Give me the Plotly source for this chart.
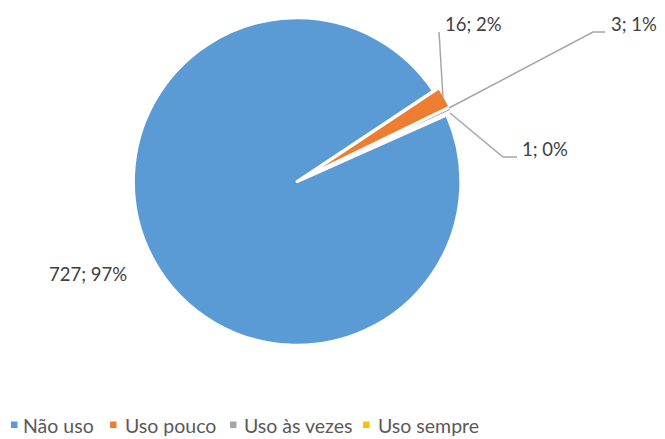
import plotly.graph_objects as go

# ── Dados ────────────────────────────────────────────────────────────────────

CATEGORIAS  = ["Não uso", "Uso pouco", "Uso às vezes", "Uso sempre"]
VALORES     = [727, 16, 3, 1]
PERCENTUAIS = [97, 2, 1, 0]
CORES       = ["#5B9BD5", "#ED7D31", "#A5A5A5", "#FFC000"]

# a página tem margem de 8px no body: a figura começa em (8, 8)
OFF = 8
W, H = 665 - OFF, 439 - OFF


def px(x):
    return (x - OFF) / W


def py(y):
    return 1 - (y - OFF) / H


# ── Gráfico ──────────────────────────────────────────────────────────────────

fig = go.Figure()

fig.add_trace(go.Pie(
    labels=CATEGORIAS,
    values=VALORES,
    marker=dict(colors=CORES, line=dict(color="white", width=3)),
    sort=False,
    direction="clockwise",
    rotation=66,
    pull=[0.02] * len(VALORES),
    textinfo="none",
    hoverinfo="label+value+percent",
    showlegend=False,
    domain=dict(x=[px(133), px(467)], y=[py(347), py(13)]),
))

rotulos = [f"{v}; {p}%" for v, p in zip(VALORES, PERCENTUAIS)]

# posições dos rótulos (px da referência): esquerda, centro vertical
pos_rotulos = [(47, 274), (443, 24), (609, 24), (520, 149)]
for txt, (x, y) in zip(rotulos, pos_rotulos):
    fig.add_annotation(
        x=px(x), y=py(y), xref="paper", yref="paper",
        text=txt, showarrow=False, xanchor="left", yanchor="middle",
        font=dict(size=18.5, color="#404040"),
    )

# linhas de chamada
linhas = [
    [(443, 97), (439, 32)],
    [(449, 108), (593, 32), (605, 32)],
    [(450, 113), (503, 157), (517, 157)],
]
for pts in linhas:
    path = "M " + " L ".join(f"{px(x)},{py(y)}" for x, y in pts)
    fig.add_shape(type="path", path=path, xref="paper", yref="paper",
                  line=dict(color="#A6A6A6", width=1.5))

# legenda manual
leg_quad = [11, 110, 230, 363]
leg_txt  = [21, 123, 242, 376]
for cat, cor, xq, xt in zip(CATEGORIAS, CORES, leg_quad, leg_txt):
    fig.add_shape(type="rect", xref="paper", yref="paper",
                  x0=px(xq), x1=px(xq + 6.5), y0=py(428), y1=py(421.5),
                  fillcolor=cor, line=dict(width=0))
    fig.add_annotation(
        x=px(xt), y=py(425), xref="paper", yref="paper",
        text=cat, showarrow=False, xanchor="left", yanchor="middle",
        font=dict(size=19.5, color="#595959"),
    )

fig.update_layout(
    width=W, height=H,
    margin=dict(l=0, r=0, t=0, b=0),
    paper_bgcolor="white",
    plot_bgcolor="white",
    font=dict(family="Lato, 'Open Sans', sans-serif", color="#595959"),
)

fig.write_html("out.html")
